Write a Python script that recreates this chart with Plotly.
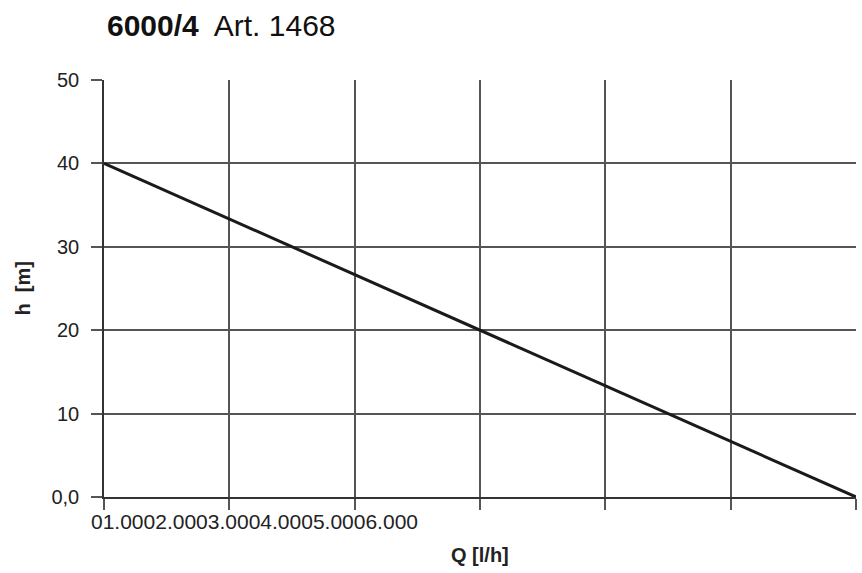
import plotly.graph_objects as go

q_values = [0, 6000]
h_values = [40, 0]
x_ticks = [0, 1000, 2000, 3000, 4000, 5000, 6000]
x_tick_labels = ["0", "1.000", "2.000", "3.000", "4.000", "5.000", "6.000"]
y_ticks = [0, 10, 20, 30, 40, 50]
y_tick_labels = ["0,0", "10", "20", "30", "40", "50"]

fig = go.Figure()
fig.add_trace(go.Scatter(x=q_values, y=h_values, mode="lines",
                         line=dict(color="#1a1a1a", width=3), showlegend=False))

font = "Liberation Sans, Arial, sans-serif"
fig.update_layout(
    width=862, height=573,
    margin=dict(l=104, r=6, t=80, b=76),
    paper_bgcolor="white", plot_bgcolor="white",
    font=dict(family=font, color="#222", size=20),
    annotations=[
        dict(text="<b>6000/4</b>  Art. 1468", xref="paper", yref="paper",
             x=0.001, y=1.0, yshift=55, xanchor="left", yanchor="middle",
             showarrow=False, font=dict(size=30, color="#111", family=font)),
        dict(text="".join(x_tick_labels), xref="paper", yref="paper",
             x=0, y=0, xshift=-15, yshift=-24, xanchor="left", yanchor="middle",
             showarrow=False, font=dict(size=21, color="#222", family=font)),
        dict(text="<b>Q [l/h]</b>", xref="paper", yref="paper",
             x=0.5, y=0, yshift=-58, xanchor="center", yanchor="middle",
             showarrow=False, font=dict(size=20, color="#222", family=font)),
        dict(text="<b>h  [m]</b>", xref="paper", yref="paper",
             x=0, y=0.5, xshift=-82, xanchor="center", yanchor="middle",
             textangle=-90, showarrow=False,
             font=dict(size=20, color="#222", family=font)),
    ],
)
fig.update_xaxes(range=[0, 6000], tickvals=x_ticks, ticktext=[""] * len(x_ticks),
                 showgrid=True, gridcolor="#555", gridwidth=1.5,
                 showline=True, linecolor="#333", linewidth=1.5,
                 ticks="outside", ticklen=11, tickwidth=1.5, tickcolor="#555",
                 zeroline=False, fixedrange=True)
fig.update_yaxes(range=[0, 50], tickvals=y_ticks, ticktext=y_tick_labels,
                 tickfont=dict(size=20),
                 showgrid=True, gridcolor="#555", gridwidth=1.5,
                 showline=True, linecolor="#333", linewidth=1.5,
                 ticks="outside", ticklen=11, tickwidth=1.5, tickcolor="#555",
                 zeroline=False, fixedrange=True, ticklabelstandoff=8)

fig.write_html("out.html")
